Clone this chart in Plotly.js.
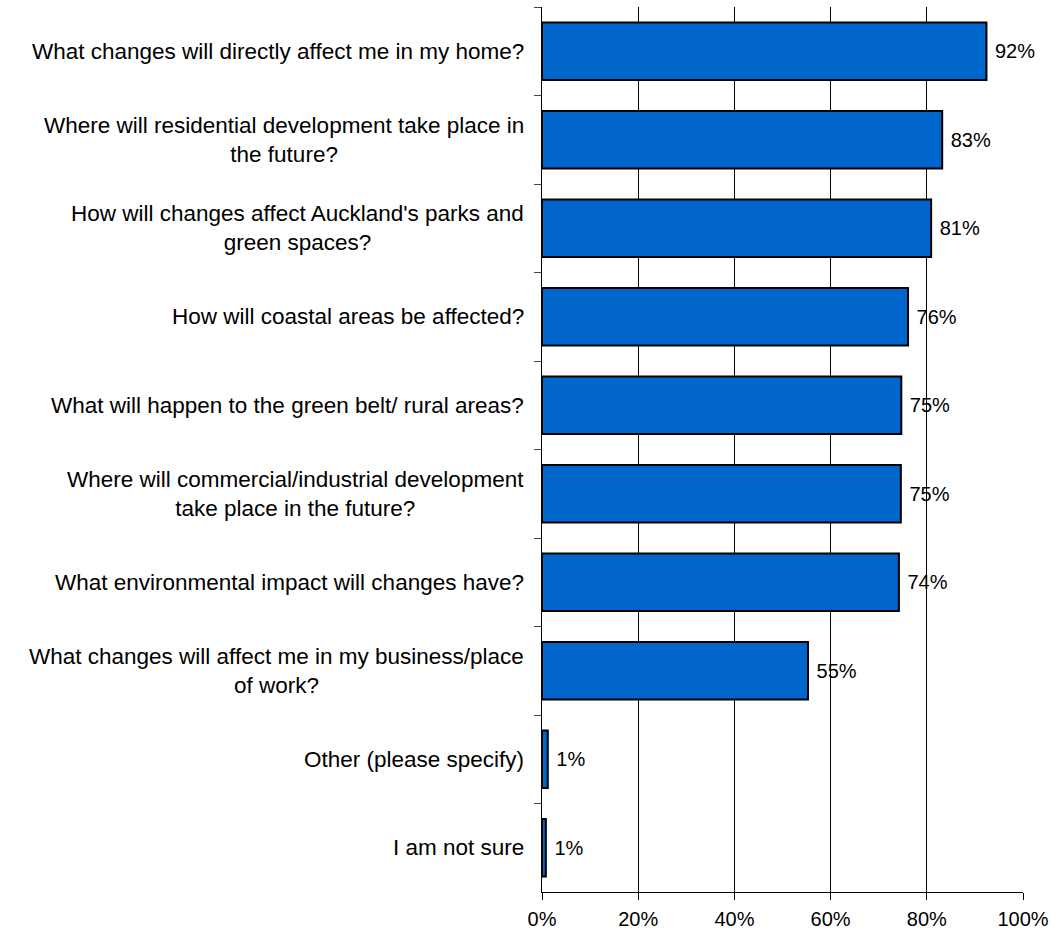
<!DOCTYPE html>
<html>
<head>
<meta charset="utf-8">
<script src="https://cdn.plot.ly/plotly-3.0.1.min.js"></script>
<style>
html,body{margin:0;padding:0;background:#fff;}
#chart{width:1054px;height:932px;}
</style>
</head>
<body>
<div id="chart"></div>
<script>
var categories = [
  "What changes will directly affect me in my home?",
  "Where will residential development take place in<br>the future?",
  "How will changes affect Auckland's parks and<br>green spaces?",
  "How will coastal areas be affected?",
  "What will happen to the green belt/ rural areas?",
  "Where will commercial/industrial development<br>take place in the future?",
  "What environmental impact will changes have?",
  "What changes will affect me in my business/place<br>of work?",
  "Other (please specify)",
  "I am not sure"
];
var values = [92.4, 83.2, 80.9, 76.1, 74.7, 74.6, 74.2, 55.3, 1.2, 0.8];
var valueLabels = ["92%", "83%", "81%", "76%", "75%", "75%", "74%", "55%", "1%", "1%"];
var xTickVals = [0, 20, 40, 60, 80, 100];
var xTickText = ["0%", "20%", "40%", "60%", "80%", "100%"];

var FONT = "Liberation Sans, Arial, sans-serif";

var trace = {
  type: "bar",
  orientation: "h",
  x: values,
  y: categories,
  text: valueLabels.map(function(t){ return "\u00A0" + t; }),
  textposition: "outside",
  constraintext: "none",
  cliponaxis: false,
  textfont: {family: FONT, size: 20, color: "#000"},
  marker: {color: "#0066CC", line: {color: "#000", width: 2}},
  hoverinfo: "none"
};

var annotations = categories.map(function(c){
  return {
    xref: "paper", yref: "y",
    x: 0, y: c,
    xanchor: "right", yanchor: "middle",
    xshift: -16,
    text: c, align: "center", showarrow: false,
    font: {family: FONT, size: 22.5, color: "#000"}
  };
});

var layout = {
  width: 1054, height: 932,
  margin: {l: 542, r: 31, t: 7, b: 40, pad: 0},
  paper_bgcolor: "#fff", plot_bgcolor: "#fff",
  showlegend: false,
  bargap: 0.35,
  font: {family: FONT, size: 20, color: "#000"},
  xaxis: {
    range: [0, 100],
    tickvals: xTickVals, ticktext: xTickText,
    showgrid: true, gridcolor: "#000", gridwidth: 1,
    zeroline: false,
    showline: true, linecolor: "#000", linewidth: 1,
    ticks: "outside", ticklen: 7, tickcolor: "#000",
    ticklabelstandoff: 2,
    tickfont: {family: FONT, size: 20, color: "#000"},
    fixedrange: true
  },
  yaxis: {
    type: "category",
    autorange: "reversed",
    showticklabels: false,
    tickson: "boundaries",
    ticks: "outside", ticklen: 7, tickcolor: "#444",
    showgrid: false, zeroline: false,
    showline: true, linecolor: "#000", linewidth: 1.5,
    fixedrange: true
  },
  annotations: annotations
};

Plotly.newPlot("chart", [trace], layout, {displayModeBar: false, staticPlot: true});
</script>
</body>
</html>
